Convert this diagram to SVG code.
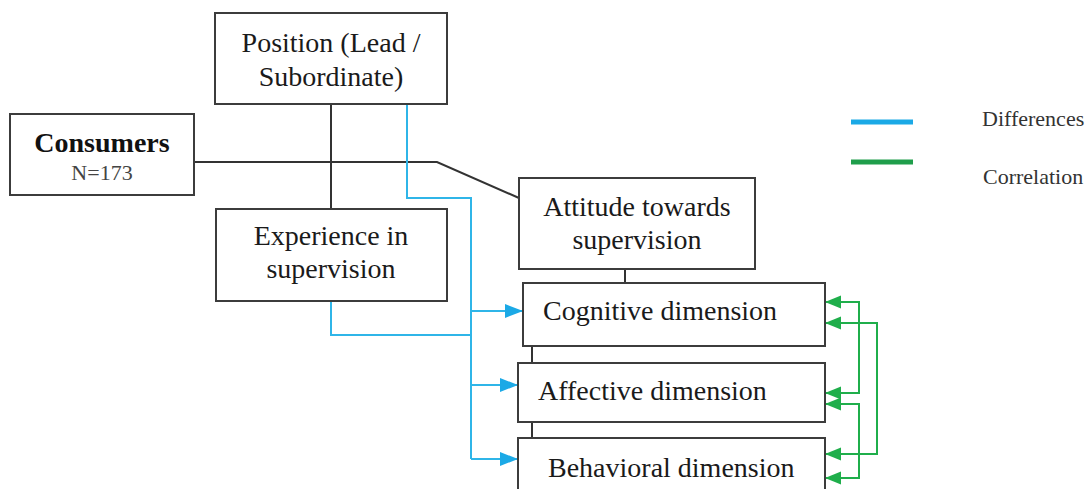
<svg xmlns="http://www.w3.org/2000/svg" width="1092" height="489" viewBox="0 0 1092 489">
<style>
.box{fill:#fff;stroke:#3c3c3c;stroke-width:2}
.t{font-family:"Liberation Serif","Times New Roman",serif;font-size:28px;fill:#1a1a1a}
.cb{font-family:"Liberation Serif","Times New Roman",serif;font-size:28px;font-weight:bold;fill:#111}
.n{font-family:"Liberation Serif","Times New Roman",serif;font-size:22px;fill:#444}
.lg{font-family:"Liberation Serif","Times New Roman",serif;font-size:22px;fill:#333}
.blk{fill:none;stroke:#333;stroke-width:2}
.blu{fill:none;stroke:#2fb5e8;stroke-width:2}
.grn{fill:none;stroke:#1fae4b;stroke-width:2}
</style>
<defs>
<marker id="ab" markerUnits="userSpaceOnUse" markerWidth="20" markerHeight="16" refX="18" refY="7" orient="auto"><path d="M0,0 L18,7 L0,14 Z" fill="#1ba9e6"/></marker>
<marker id="ag" markerUnits="userSpaceOnUse" markerWidth="18" markerHeight="14" refX="16" refY="6.5" orient="auto"><path d="M0,0 L16,6.5 L0,13 Z" fill="#1fae4b"/></marker>
</defs>
<rect width="1092" height="489" fill="#fff"/>
<g id="connectors">
<path class="blk" d="M194,162 H437 L519,198"/>
<path class="blk" d="M331,104 V209"/>
<path class="blk" d="M625,269 V283"/>
<path class="blk" d="M532,346 V363"/>
<path class="blk" d="M532,422 V438"/>
<path class="blu" d="M407,104 V198 H471 V459"/>
<path class="blu" d="M331,301 V335 H471"/>
<path class="blu" d="M471,311 H523" marker-end="url(#ab)"/>
<path class="blu" d="M471,385 H518" marker-end="url(#ab)"/>
<path class="blu" d="M471,459 H518" marker-end="url(#ab)"/>
<path class="grn" d="M825,302 H859 V393 H825" marker-end="url(#ag)"/>
<path class="grn" d="M859,302 H825" marker-end="url(#ag)"/>
<path class="grn" d="M825,323 H877 V454 H825" marker-end="url(#ag)"/>
<path class="grn" d="M877,323 H825" marker-end="url(#ag)"/>
<path class="grn" d="M825,404 H859 V478 H825" marker-end="url(#ag)"/>
<path class="grn" d="M859,404 H825" marker-end="url(#ag)"/>
</g>
<g id="position">
<rect class="box" x="215" y="13" width="232" height="91"/>
<text class="t" x="331" y="52" text-anchor="middle">Position (Lead /</text>
<text class="t" x="331" y="86" text-anchor="middle">Subordinate)</text>
</g>
<g id="consumers">
<rect class="box" x="10" y="114" width="184" height="81"/>
<text class="cb" x="102" y="152" text-anchor="middle">Consumers</text>
<text class="n" x="102" y="180" text-anchor="middle">N=173</text>
</g>
<g id="experience">
<rect class="box" x="216" y="209" width="231" height="92"/>
<text class="t" x="331" y="245" text-anchor="middle">Experience in</text>
<text class="t" x="331" y="278" text-anchor="middle">supervision</text>
</g>
<g id="attitude">
<rect class="box" x="519" y="178" width="236" height="91"/>
<text class="t" x="637" y="216" text-anchor="middle">Attitude towards</text>
<text class="t" x="637" y="249" text-anchor="middle">supervision</text>
</g>
<g id="cognitive">
<rect class="box" x="523" y="283" width="302" height="63"/>
<text class="t" x="543" y="320">Cognitive dimension</text>
</g>
<g id="affective">
<rect class="box" x="518" y="363" width="307" height="59"/>
<text class="t" x="538" y="400">Affective dimension</text>
</g>
<g id="behavioral">
<rect class="box" x="518" y="438" width="307" height="70"/>
<text class="t" x="548" y="477">Behavioral dimension</text>
</g>
<g id="legend">
<line x1="851" y1="122" x2="913" y2="122" stroke="#1ba9e6" stroke-width="5"/>
<line x1="851" y1="162" x2="913" y2="162" stroke="#1f9e4b" stroke-width="5"/>
<text class="lg" x="982" y="126">Differences</text>
<text class="lg" x="983" y="184">Correlation</text>
</g>
</svg>
